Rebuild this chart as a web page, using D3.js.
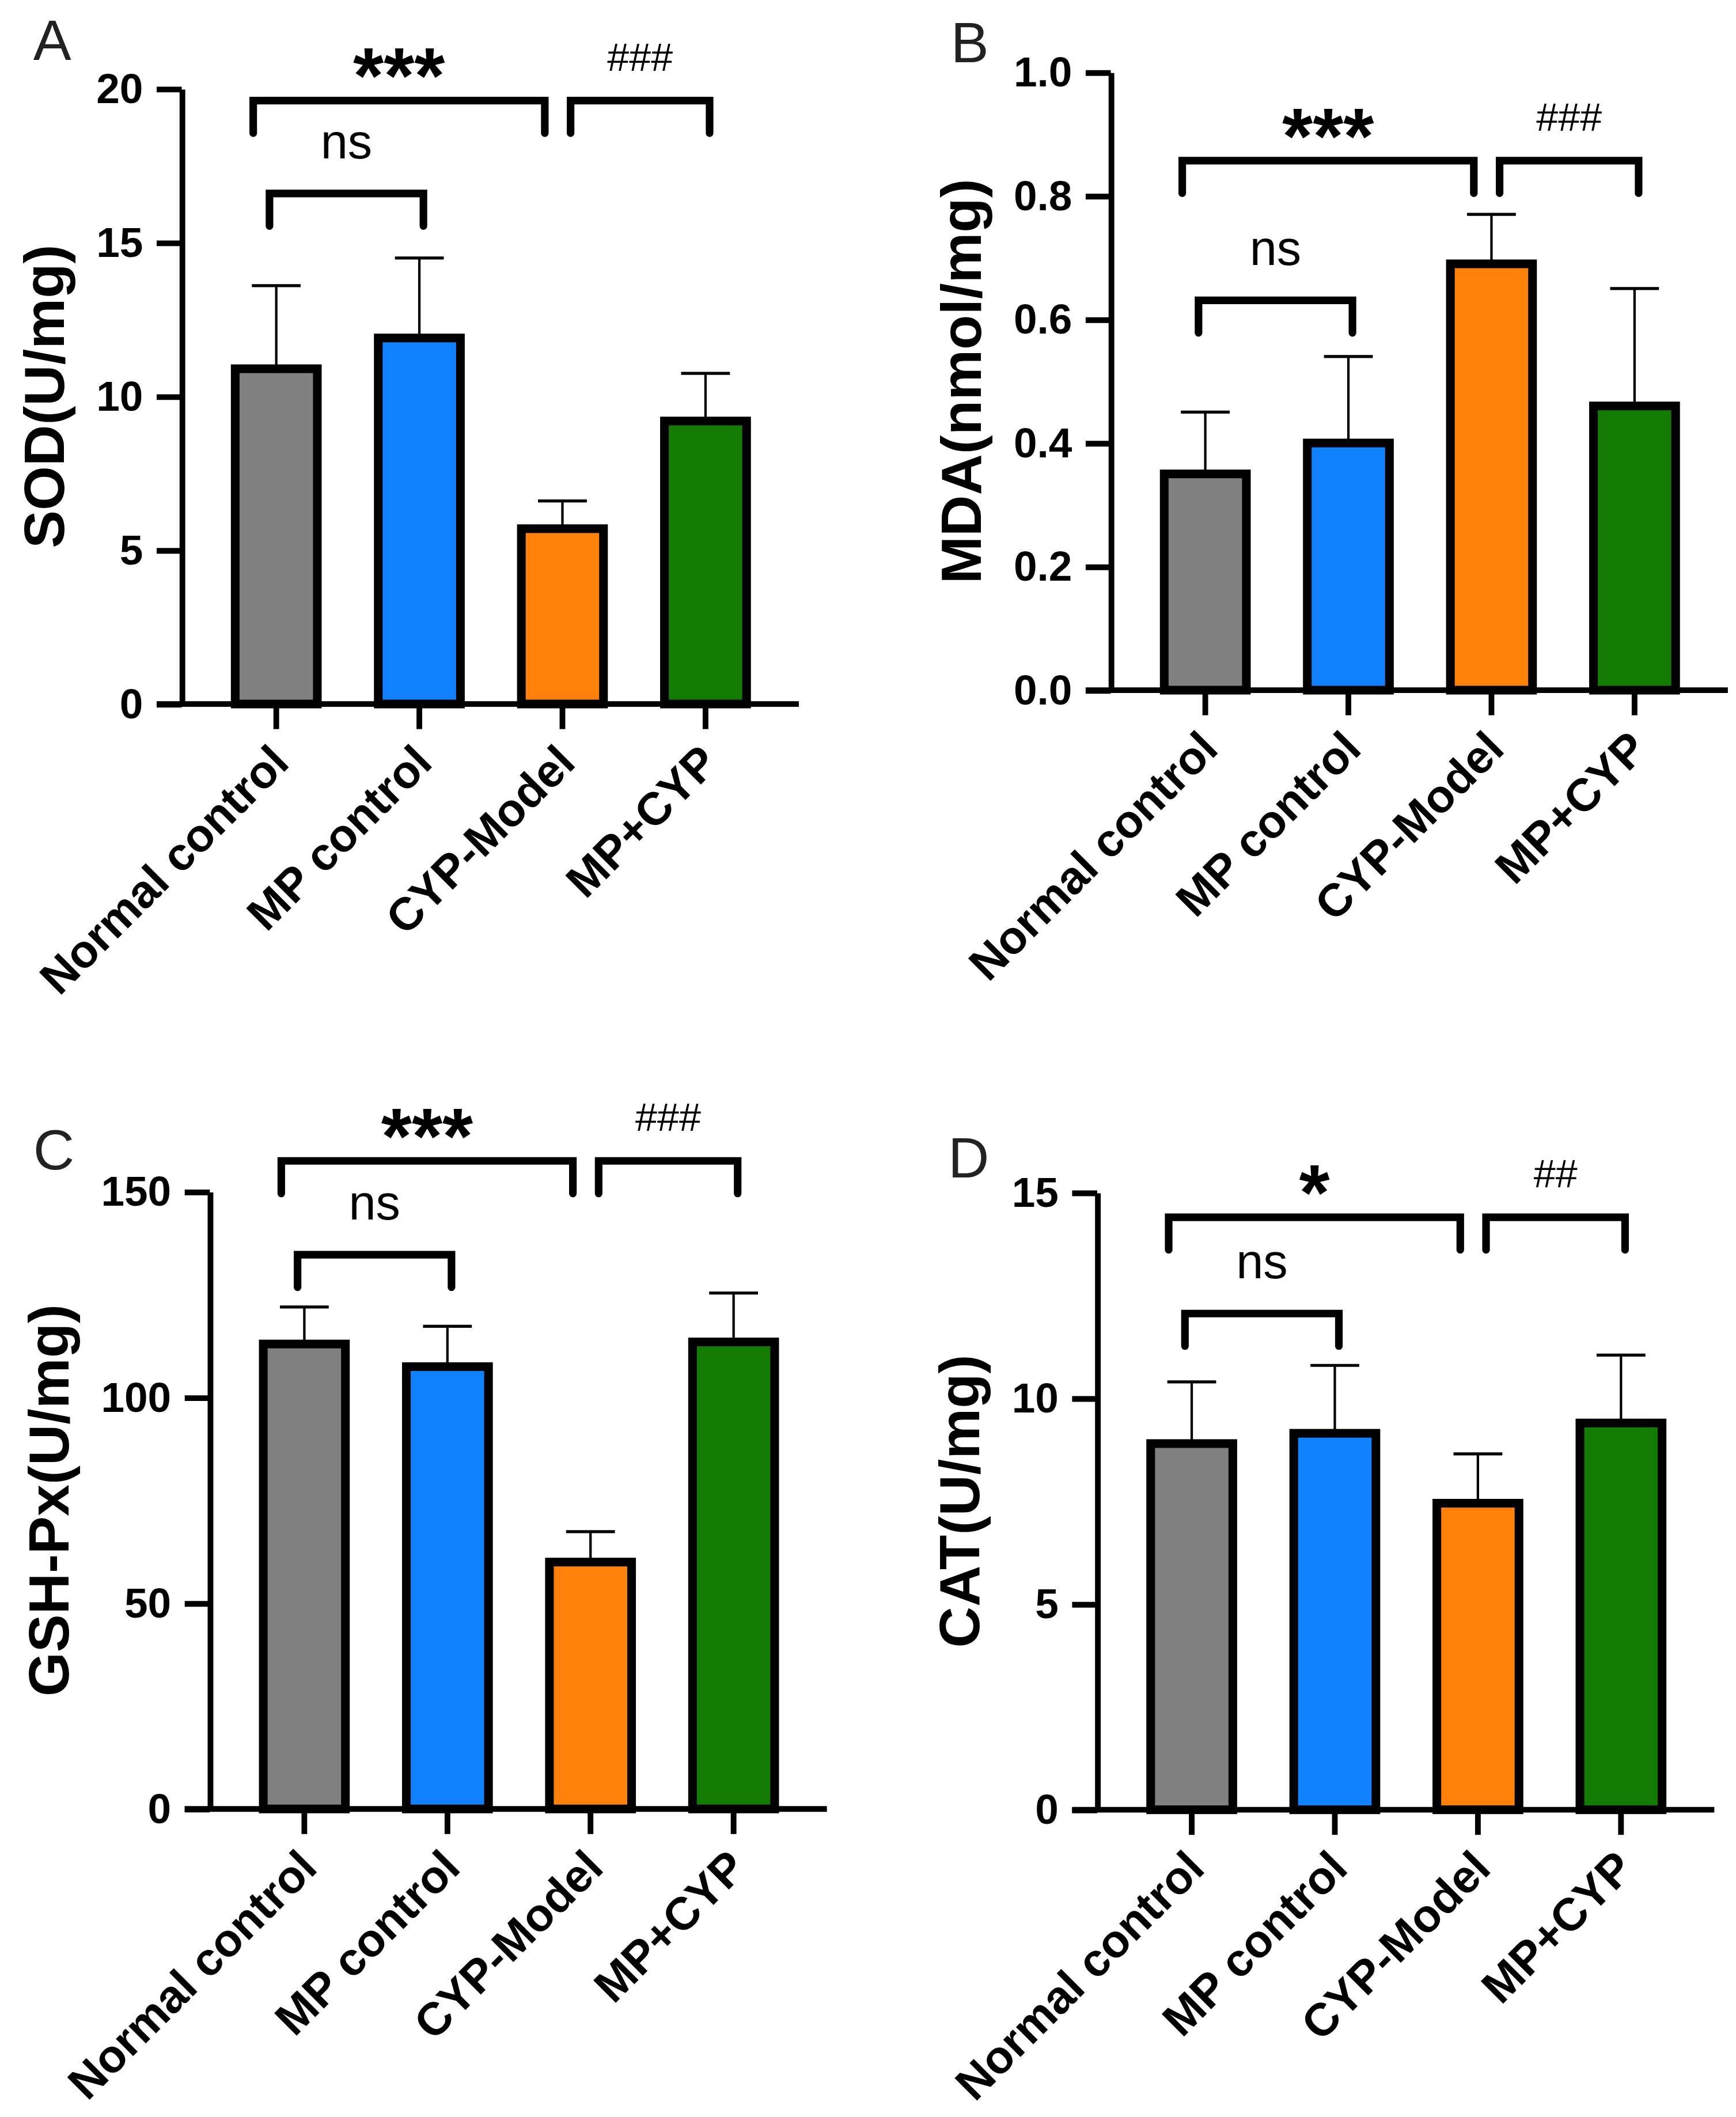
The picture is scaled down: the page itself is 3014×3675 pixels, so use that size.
<!DOCTYPE html>
<html lang="en">
<head>
    <meta charset="UTF-8">
    <title>Oxidative stress markers</title>
    <style>
        body { margin: 0; background: #fff; }
        svg { display: block; font-family: "Liberation Sans", Arial, sans-serif; }
    </style>
</head>
<body>
    <div id="chart"></div>
    <script src="https://d3js.org/d3.v7.min.js"></script>
    <script>
        // groups and colours shared by all four panels
        const groups = ["Normal control", "MP control", "CYP-Model", "MP+CYP"];
        const colors = ["#808080", "#1181ff", "#ff810a", "#137a02"];

        // A: SOD
        const sodMean = [10.9, 11.9, 5.7, 9.2];
        const sodSd = [2.7, 2.6, 0.9, 1.55];
        const sodTicks = [0, 5, 10, 15, 20];
        // B: MDA
        const mdaMean = [0.35, 0.40, 0.69, 0.46];
        const mdaSd = [0.10, 0.14, 0.08, 0.19];
        const mdaTicks = [0, 0.2, 0.4, 0.6, 0.8, 1.0];
        // C: GSH-Px
        const gshMean = [113, 107.5, 60, 113.5];
        const gshSd = [9, 9.8, 7.4, 11.9];
        const gshTicks = [0, 50, 100, 150];
        // D: CAT
        const catMean = [8.9, 9.15, 7.45, 9.4];
        const catSd = [1.5, 1.65, 1.2, 1.65];
        const catTicks = [0, 5, 10, 15];

        // significance brackets: [from group, to group, height in data units, label]
        const sodSig = [[0, 2, 19.62, "***"], [2, 3, 19.62, "###"], [0, 1, 16.6, "ns"]];
        const mdaSig = [[0, 2, 0.857, "***"], [2, 3, 0.857, "###"], [0, 1, 0.631, "ns"]];
        const gshSig = [[0, 2, 157.5, "***"], [2, 3, 157.5, "###"], [0, 1, 134.7, "ns"]];
        const catSig = [[0, 2, 14.4, "*"], [2, 3, 14.4, "##"], [0, 1, 12.06, "ns"]];

        const W = 1280, H = 1560.7;
        const svg = d3.select("#chart").append("svg")
            .attr("width", 3014)
            .attr("height", 3675)
            .attr("viewBox", `0 0 ${W} ${H}`);

        const step = 105.5;
        const tickLen = 18.5;
        const lw = 4.2;

        function drawPanel(p) {
            const g = svg.append("g");
            const y = d3.scaleLinear().domain([0, p.max]).range([p.yBot, p.yTop]);
            const c0 = p.axisX + 69.7;
            const x = d3.scaleBand().domain(groups)
                .range([c0 - step / 2, c0 + 3.5 * step])
                .paddingInner(0.426).paddingOuter(0.213);
            const cx = i => x(groups[i]) + x.bandwidth() / 2;

            // panel letter
            g.append("text").attr("x", p.lx).attr("y", p.ly)
                .attr("font-size", 42).attr("fill", "#222").text(p.letter);

            // error bars (upper only)
            const err = g.append("g").attr("stroke", "#000").attr("stroke-width", 1.8);
            groups.forEach((d, i) => {
                const top = y(p.mean[i] + p.sd[i]);
                err.append("line").attr("x1", cx(i)).attr("x2", cx(i))
                    .attr("y1", y(p.mean[i])).attr("y2", top);
                err.append("line").attr("x1", cx(i) - 18).attr("x2", cx(i) + 18)
                    .attr("y1", top).attr("y2", top).attr("stroke-width", 2.2);
            });

            // bars
            g.selectAll("rect.bar").data(groups).enter().append("rect")
                .attr("class", "bar")
                .attr("x", d => x(d))
                .attr("width", x.bandwidth())
                .attr("y", (d, i) => y(p.mean[i]))
                .attr("height", (d, i) => y(0) - y(p.mean[i]))
                .attr("fill", (d, i) => colors[i])
                .attr("stroke", "#000")
                .attr("stroke-width", 6.4);

            // y axis
            const yAxis = g.append("g").attr("transform", `translate(${p.axisX},0)`)
                .call(d3.axisLeft(y).tickValues(p.ticks).tickFormat(p.fmt)
                    .tickSize(tickLen).tickSizeOuter(0).tickPadding(10));
            yAxis.attr("font-family", null);
            yAxis.select(".domain").attr("stroke-width", lw);
            yAxis.selectAll(".tick line").attr("stroke-width", lw);
            yAxis.selectAll(".tick text")
                .attr("font-size", 31).attr("font-weight", "bold").attr("fill", "#000");

            // x axis: ticks and rotated labels, baseline drawn separately
            const xAxis = g.append("g").attr("transform", `translate(0,${p.yBot})`)
                .call(d3.axisBottom(x).tickSize(tickLen).tickSizeOuter(0));
            xAxis.attr("font-family", null);
            xAxis.select(".domain").remove();
            xAxis.selectAll(".tick line").attr("stroke-width", lw);
            xAxis.selectAll(".tick text")
                .attr("y", 0).attr("dy", 0)
                .attr("font-size", 34).attr("font-weight", "bold").attr("fill", "#000")
                .attr("text-anchor", "end")
                .attr("transform", "translate(11,45) rotate(-45)");
            g.append("line")
                .attr("x1", p.axisX - tickLen).attr("x2", p.axisX + 455)
                .attr("y1", p.yBot).attr("y2", p.yBot)
                .attr("stroke", "#000").attr("stroke-width", lw);

            // y axis title, placed left of the widest tick label
            let minX = Infinity;
            yAxis.selectAll(".tick text").each(function () {
                const b = this.getBBox();
                minX = Math.min(minX, p.axisX + b.x);
            });
            g.append("text")
                .attr("transform", `translate(${minX - 24},${(p.yTop + p.yBot) / 2}) rotate(-90)`)
                .attr("text-anchor", "middle")
                .attr("font-size", 42).attr("font-weight", "bold")
                .text(p.label);

            // significance brackets
            p.sig.forEach(([a, b, h, lab]) => {
                let xl, xr;
                if (b - a === 2) { xl = cx(a) - 17; xr = cx(b) - 13; }
                else if (a === 2) { xl = cx(a) + 6; xr = cx(b) + 3; }
                else { xl = cx(a) - 5; xr = cx(b) + 3; }
                const yy = y(h);
                g.append("path")
                    .attr("d", `M${xl},${yy + 24}V${yy}H${xr}V${yy + 24}`)
                    .attr("fill", "none").attr("stroke", "#000")
                    .attr("stroke-width", 5.6)
                    .attr("stroke-linecap", "round").attr("stroke-linejoin", "miter");
                const t = g.append("text")
                    .attr("x", (xl + xr) / 2)
                    .attr("text-anchor", "middle")
                    .text(lab);
                if (lab.startsWith("*")) {
                    t.attr("y", yy + 2).attr("font-size", 58).attr("font-weight", "bold");
                } else if (lab.startsWith("#")) {
                    t.attr("y", yy - 22).attr("font-size", 29);
                } else {
                    t.attr("y", yy - 26).attr("font-size", 36);
                }
            });
        }

        drawPanel({ letter: "A", lx: 24.5, ly: 44, axisX: 134, yTop: 65.5, yBot: 519,
            max: 20, ticks: sodTicks, fmt: d3.format("d"), label: "SOD(U/mg)",
            mean: sodMean, sd: sodSd, sig: sodSig });
        drawPanel({ letter: "B", lx: 701, ly: 46, axisX: 819, yTop: 53.3, yBot: 508.8,
            max: 1.0, ticks: mdaTicks, fmt: d3.format(".1f"), label: "MDA(nmol/mg)",
            mean: mdaMean, sd: mdaSd, sig: mdaSig });
        drawPanel({ letter: "C", lx: 24.5, ly: 862, axisX: 154.7, yTop: 878.6, yBot: 1333.6,
            max: 150, ticks: gshTicks, fmt: d3.format("d"), label: "GSH-Px(U/mg)",
            mean: gshMean, sd: gshSd, sig: gshSig });
        drawPanel({ letter: "D", lx: 699, ly: 868, axisX: 809, yTop: 879.2, yBot: 1334.2,
            max: 15, ticks: catTicks, fmt: d3.format("d"), label: "CAT(U/mg)",
            mean: catMean, sd: catSd, sig: catSig });
    </script>
</body>
</html>
